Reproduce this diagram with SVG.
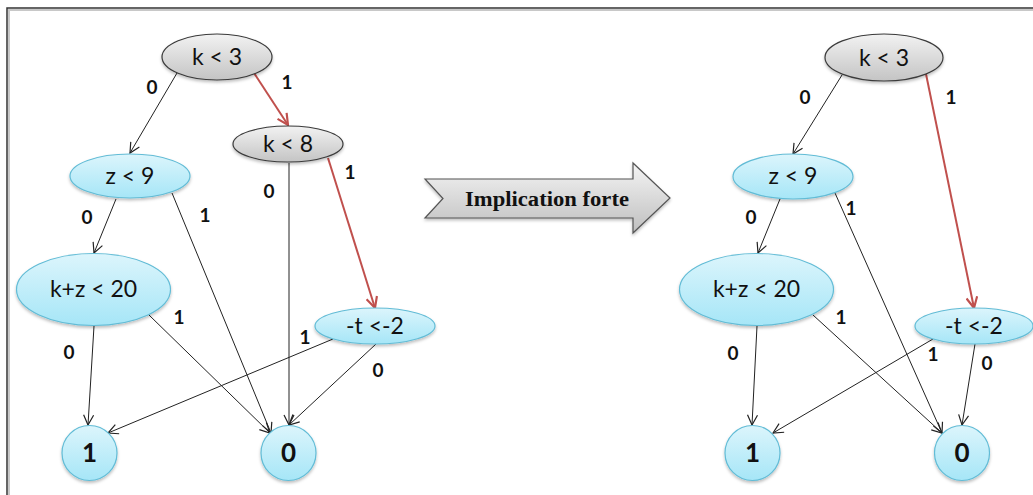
<svg xmlns="http://www.w3.org/2000/svg" width="1033" height="495" viewBox="0 0 1033 495">
<defs>
<linearGradient id="gGray" x1="0" y1="0" x2="0" y2="1">
<stop offset="0" stop-color="#f2f2f2"/><stop offset="1" stop-color="#c4c4c4"/>
</linearGradient>
<linearGradient id="gCyan" x1="0" y1="0" x2="0" y2="1">
<stop offset="0" stop-color="#dcf5fc"/><stop offset="1" stop-color="#a6e6f7"/>
</linearGradient>
<linearGradient id="gArrow" x1="0" y1="0" x2="0" y2="1">
<stop offset="0" stop-color="#f4f4f4"/><stop offset="1" stop-color="#bfbfbf"/>
</linearGradient>
<filter id="sh" x="-20%" y="-20%" width="140%" height="150%">
<feDropShadow dx="0" dy="2" stdDeviation="1.5" flood-color="#000" flood-opacity="0.25"/>
</filter>
<marker id="ah" viewBox="0 0 12 12" refX="11" refY="6" markerWidth="12" markerHeight="12" markerUnits="userSpaceOnUse" orient="auto">
<path d="M1,1 L11,6 L1,11" fill="none" stroke="#222" stroke-width="1.2"/>
</marker>
<marker id="ahr" viewBox="0 0 12 12" refX="11" refY="6" markerWidth="13" markerHeight="13" markerUnits="userSpaceOnUse" orient="auto">
<path d="M1,1 L11,6 L1,11" fill="none" stroke="#c0504d" stroke-width="2"/>
</marker>
</defs>
<style>
.gray{fill:url(#gGray);stroke:#3a3a3a;stroke-width:1.2;filter:url(#sh)}
.cyan{fill:url(#gCyan);stroke:#62bcd6;stroke-width:1.2;filter:url(#sh)}
.nt{font-family:Lato,"Liberation Sans",sans-serif;font-size:23px;fill:#111;text-anchor:middle}
.tt{font-family:Lato,"Liberation Sans",sans-serif;font-size:26px;font-weight:bold;fill:#111;text-anchor:middle}
.el{font-family:Lato,"Liberation Sans",sans-serif;font-size:19px;font-weight:bold;fill:#111;text-anchor:middle}
.e{stroke:#222;stroke-width:1;fill:none;marker-end:url(#ah)}
.r{stroke:#c0504d;stroke-width:2;fill:none;marker-end:url(#ahr)}
</style>
<rect width="1033" height="495" fill="#fff"/>
<path d="M9,495 V10 H1033" fill="none" stroke="#c8c8c8" stroke-width="2"/>
<path d="M7,495 V8 H1033" fill="none" stroke="#333" stroke-width="1.5"/>

<g id="connectors">
<line class="e" x1="177" y1="73" x2="130" y2="153"/>
<line class="r" x1="254" y1="73" x2="288" y2="125"/>
<line class="e" x1="289" y1="163" x2="289" y2="425"/>
<line class="r" x1="328" y1="158" x2="375" y2="308"/>
<line class="e" x1="116" y1="199" x2="94" y2="253"/>
<line class="e" x1="172" y1="193" x2="271" y2="433"/>
<line class="e" x1="94" y1="326" x2="88" y2="425"/>
<line class="e" x1="149" y1="315" x2="270" y2="433"/>
<line class="e" x1="333" y1="339" x2="108" y2="433"/>
<line class="e" x1="376" y1="344" x2="289" y2="425"/>

<line class="e" x1="842" y1="75" x2="793" y2="154"/>
<line class="r" x1="926" y1="74" x2="974" y2="308"/>
<line class="e" x1="780" y1="199" x2="758" y2="253"/>
<line class="e" x1="835" y1="193" x2="942" y2="433"/>
<line class="e" x1="757" y1="326" x2="752" y2="425"/>
<line class="e" x1="813" y1="315" x2="942" y2="433"/>
<line class="e" x1="933" y1="339" x2="773" y2="433"/>
<line class="e" x1="975" y1="344" x2="962" y2="425"/>
</g>

<g id="edge-labels">
<text class="el" x="152" y="94">0</text>
<text class="el" x="287" y="89">1</text>
<text class="el" x="269" y="198">0</text>
<text class="el" x="350" y="179">1</text>
<text class="el" x="87" y="224">0</text>
<text class="el" x="205" y="222">1</text>
<text class="el" x="69" y="359">0</text>
<text class="el" x="179" y="324">1</text>
<text class="el" x="305" y="344">1</text>
<text class="el" x="378" y="377">0</text>

<text class="el" x="805" y="104">0</text>
<text class="el" x="951" y="104">1</text>
<text class="el" x="751" y="224">0</text>
<text class="el" x="851" y="215">1</text>
<text class="el" x="733" y="360">0</text>
<text class="el" x="841" y="324">1</text>
<text class="el" x="933" y="361">1</text>
<text class="el" x="987" y="370">0</text>
</g>

<g id="L-k3"><ellipse class="gray" cx="217" cy="57" rx="55" ry="23"/><text class="nt" x="217" y="65">k &lt; 3</text></g>
<g id="L-k8"><ellipse class="gray" cx="288" cy="144" rx="55" ry="18"/><text class="nt" x="288" y="152">k &lt; 8</text></g>
<g id="L-z9"><ellipse class="cyan" cx="130" cy="176" rx="60" ry="22"/><text class="nt" x="130" y="184">z &lt; 9</text></g>
<g id="L-kz20"><ellipse class="cyan" cx="93.5" cy="289.5" rx="77" ry="36"/><text class="nt" x="93.5" y="297">k+z &lt; 20</text></g>
<g id="L-t2"><ellipse class="cyan" cx="375" cy="326" rx="60" ry="18"/><text class="nt" x="375" y="334">-t &lt;-2</text></g>
<g id="L-one"><circle class="cyan" cx="89.5" cy="453" r="27.5"/><text class="tt" x="89.5" y="462">1</text></g>
<g id="L-zero"><circle class="cyan" cx="288.5" cy="453" r="27.5"/><text class="tt" x="288.5" y="462">0</text></g>

<g id="arrow">
<polygon points="425,179 633,179 633,163 670,198 633,233 633,218 425,218 443,198.5" fill="url(#gArrow)" stroke="#555" stroke-width="1.2" filter="url(#sh)"/>
<text x="547" y="206" font-family="'Liberation Serif',serif" font-size="20" font-weight="bold" fill="#111" text-anchor="middle" textLength="164" lengthAdjust="spacingAndGlyphs">Implication forte</text>
</g>

<g id="R-k3"><ellipse class="gray" cx="884" cy="57.5" rx="59" ry="23.5"/><text class="nt" x="884" y="66">k &lt; 3</text></g>
<g id="R-z9"><ellipse class="cyan" cx="793" cy="176.5" rx="60" ry="22.5"/><text class="nt" x="793" y="184">z &lt; 9</text></g>
<g id="R-kz20"><ellipse class="cyan" cx="756.5" cy="289.5" rx="77" ry="36"/><text class="nt" x="756.5" y="297">k+z &lt; 20</text></g>
<g id="R-t2"><ellipse class="cyan" cx="974" cy="326" rx="59" ry="18"/><text class="nt" x="974" y="334">-t &lt;-2</text></g>
<g id="R-one"><circle class="cyan" cx="752.5" cy="453" r="27.5"/><text class="tt" x="752.5" y="462">1</text></g>
<g id="R-zero"><circle class="cyan" cx="962" cy="453" r="27.5"/><text class="tt" x="962" y="462">0</text></g>
</svg>
